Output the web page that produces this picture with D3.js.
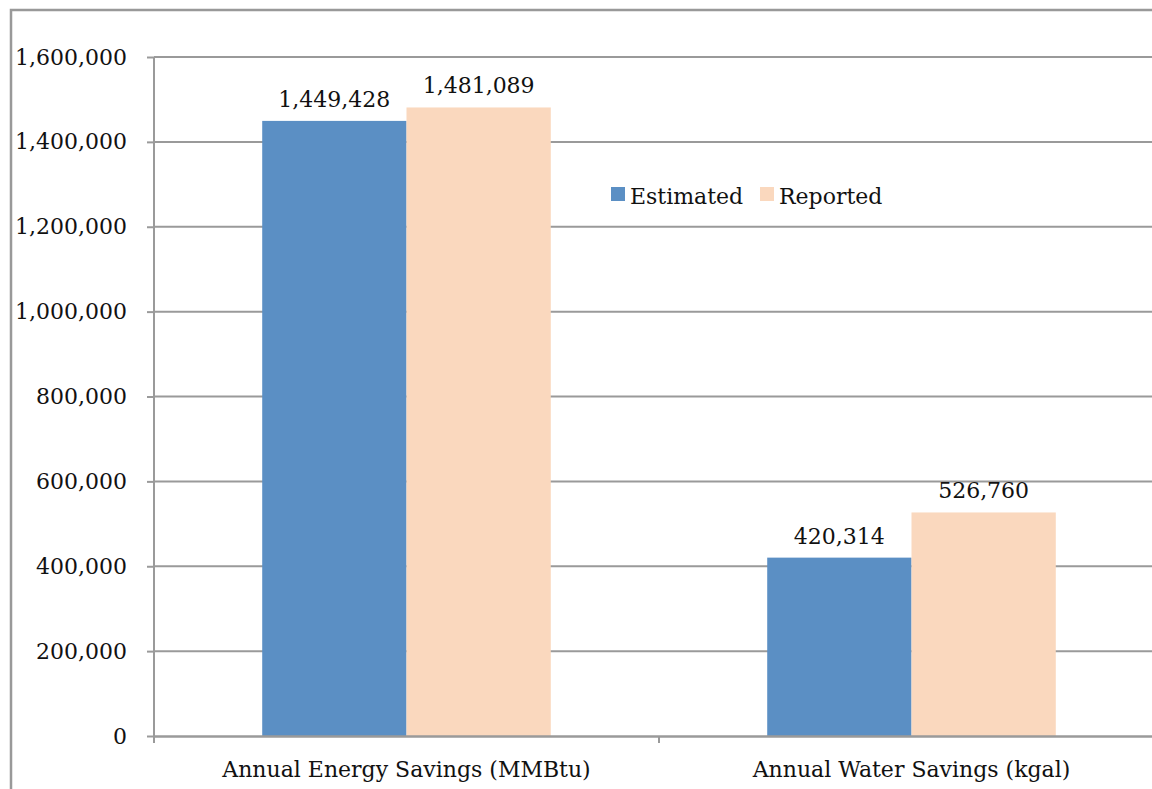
<!DOCTYPE html>
<html>
<head>
<meta charset="utf-8">
<script src="https://cdn.jsdelivr.net/npm/d3@7"></script>
<style>
body { margin: 0; background: #fff; }
svg text { font-family: "DejaVu Serif", serif; fill: #111; }
</style>
</head>
<body>
<script>
// chart data
var categories = ["Annual Energy Savings (MMBtu)", "Annual Water Savings (kgal)"];
var seriesNames = ["Estimated", "Reported"];
var estimated = [1449428, 420314];
var reported = [1481089, 526760];
var yTicks = [0, 200000, 400000, 600000, 800000, 1000000, 1200000, 1400000, 1600000];
var colors = ["#5b8fc4", "#fad8be"];

var width = 1152, height = 789;
var margin = {left: 154, top: 57, right: -12, bottom: 53};

var svg = d3.select("body").append("svg")
    .attr("width", width)
    .attr("height", height);

// outer frame
svg.append("rect")
    .attr("x", 11).attr("y", 10)
    .attr("width", width + 20).attr("height", height + 20)
    .attr("fill", "none")
    .attr("stroke", "#999")
    .attr("stroke-width", 2.5);

var x = d3.scaleBand()
    .domain(categories)
    .range([margin.left, width - margin.right])
    .paddingInner(0)
    .paddingOuter(0);

var y = d3.scaleLinear()
    .domain([0, 1600000])
    .range([height - margin.bottom, margin.top]);

var fmt = d3.format(",");

// gridlines
svg.append("g").selectAll("line")
    .data(yTicks.slice(1))
    .enter().append("line")
    .attr("x1", margin.left).attr("x2", width)
    .attr("y1", function(d) { return y(d); })
    .attr("y2", function(d) { return y(d); })
    .attr("stroke", "#9a9a9a")
    .attr("stroke-width", 2);

// bars
var groupW = x.bandwidth() / 3.5 * 2;
var inner = d3.scaleBand().domain(seriesNames).range([0, groupW]);
var rows = categories.map(function(c, i) {
    return [{s: 0, c: c, v: estimated[i]}, {s: 1, c: c, v: reported[i]}];
});
var bars = svg.append("g").selectAll("g")
    .data(rows).enter().append("g")
    .attr("transform", function(d, i) {
        return "translate(" + (x(categories[i]) + (x.bandwidth() - groupW) / 2) + ",0)";
    });
bars.selectAll("rect")
    .data(function(d) { return d; })
    .enter().append("rect")
    .attr("x", function(d) { return inner(seriesNames[d.s]); })
    .attr("width", inner.bandwidth())
    .attr("y", function(d) { return y(d.v); })
    .attr("height", function(d) { return y(0) - y(d.v); })
    .attr("fill", function(d) { return colors[d.s]; });
bars.selectAll("text")
    .data(function(d) { return d; })
    .enter().append("text")
    .attr("x", function(d) { return inner(seriesNames[d.s]) + inner.bandwidth() / 2; })
    .attr("y", function(d) { return y(d.v) - 14; })
    .attr("text-anchor", "middle")
    .style("font-size", "22px")
    .text(function(d) { return fmt(d.v); });

// y axis
var yAxis = svg.append("g")
    .attr("transform", "translate(" + margin.left + ",0)")
    .call(d3.axisLeft(y).tickValues(yTicks).tickFormat(fmt).tickSize(7).tickPadding(20));
yAxis.selectAll("path, line").attr("stroke", "#9a9a9a").attr("stroke-width", 2);
yAxis.select(".domain").attr("d", "M0," + margin.top + "V" + y(0));
yAxis.selectAll("text").style("font-size", "22px").attr("fill", "#111");

// x axis
var xAxis = svg.append("g")
    .attr("transform", "translate(0," + y(0) + ")")
    .call(d3.axisBottom(x).tickSize(0).tickPadding(25));
xAxis.select(".domain").attr("stroke", "#9a9a9a").attr("stroke-width", 2.5);
xAxis.selectAll("text").style("font-size", "22px").attr("fill", "#111");
xAxis.selectAll(".sep")
    .data(categories)
    .enter().append("line")
    .attr("x1", function(d) { return x(d); })
    .attr("x2", function(d) { return x(d); })
    .attr("y1", 0).attr("y2", 7)
    .attr("stroke", "#9a9a9a").attr("stroke-width", 2);

// legend
var legend = svg.append("g").attr("transform", "translate(611,187)");
var legX = [0, 149];
seriesNames.forEach(function(n, i) {
    legend.append("rect")
        .attr("x", legX[i]).attr("y", 0)
        .attr("width", 14).attr("height", 14)
        .attr("fill", colors[i]);
    legend.append("text")
        .attr("x", legX[i] + 19).attr("y", 17)
        .style("font-size", "22px")
        .text(n);
});
</script>
</body>
</html>
